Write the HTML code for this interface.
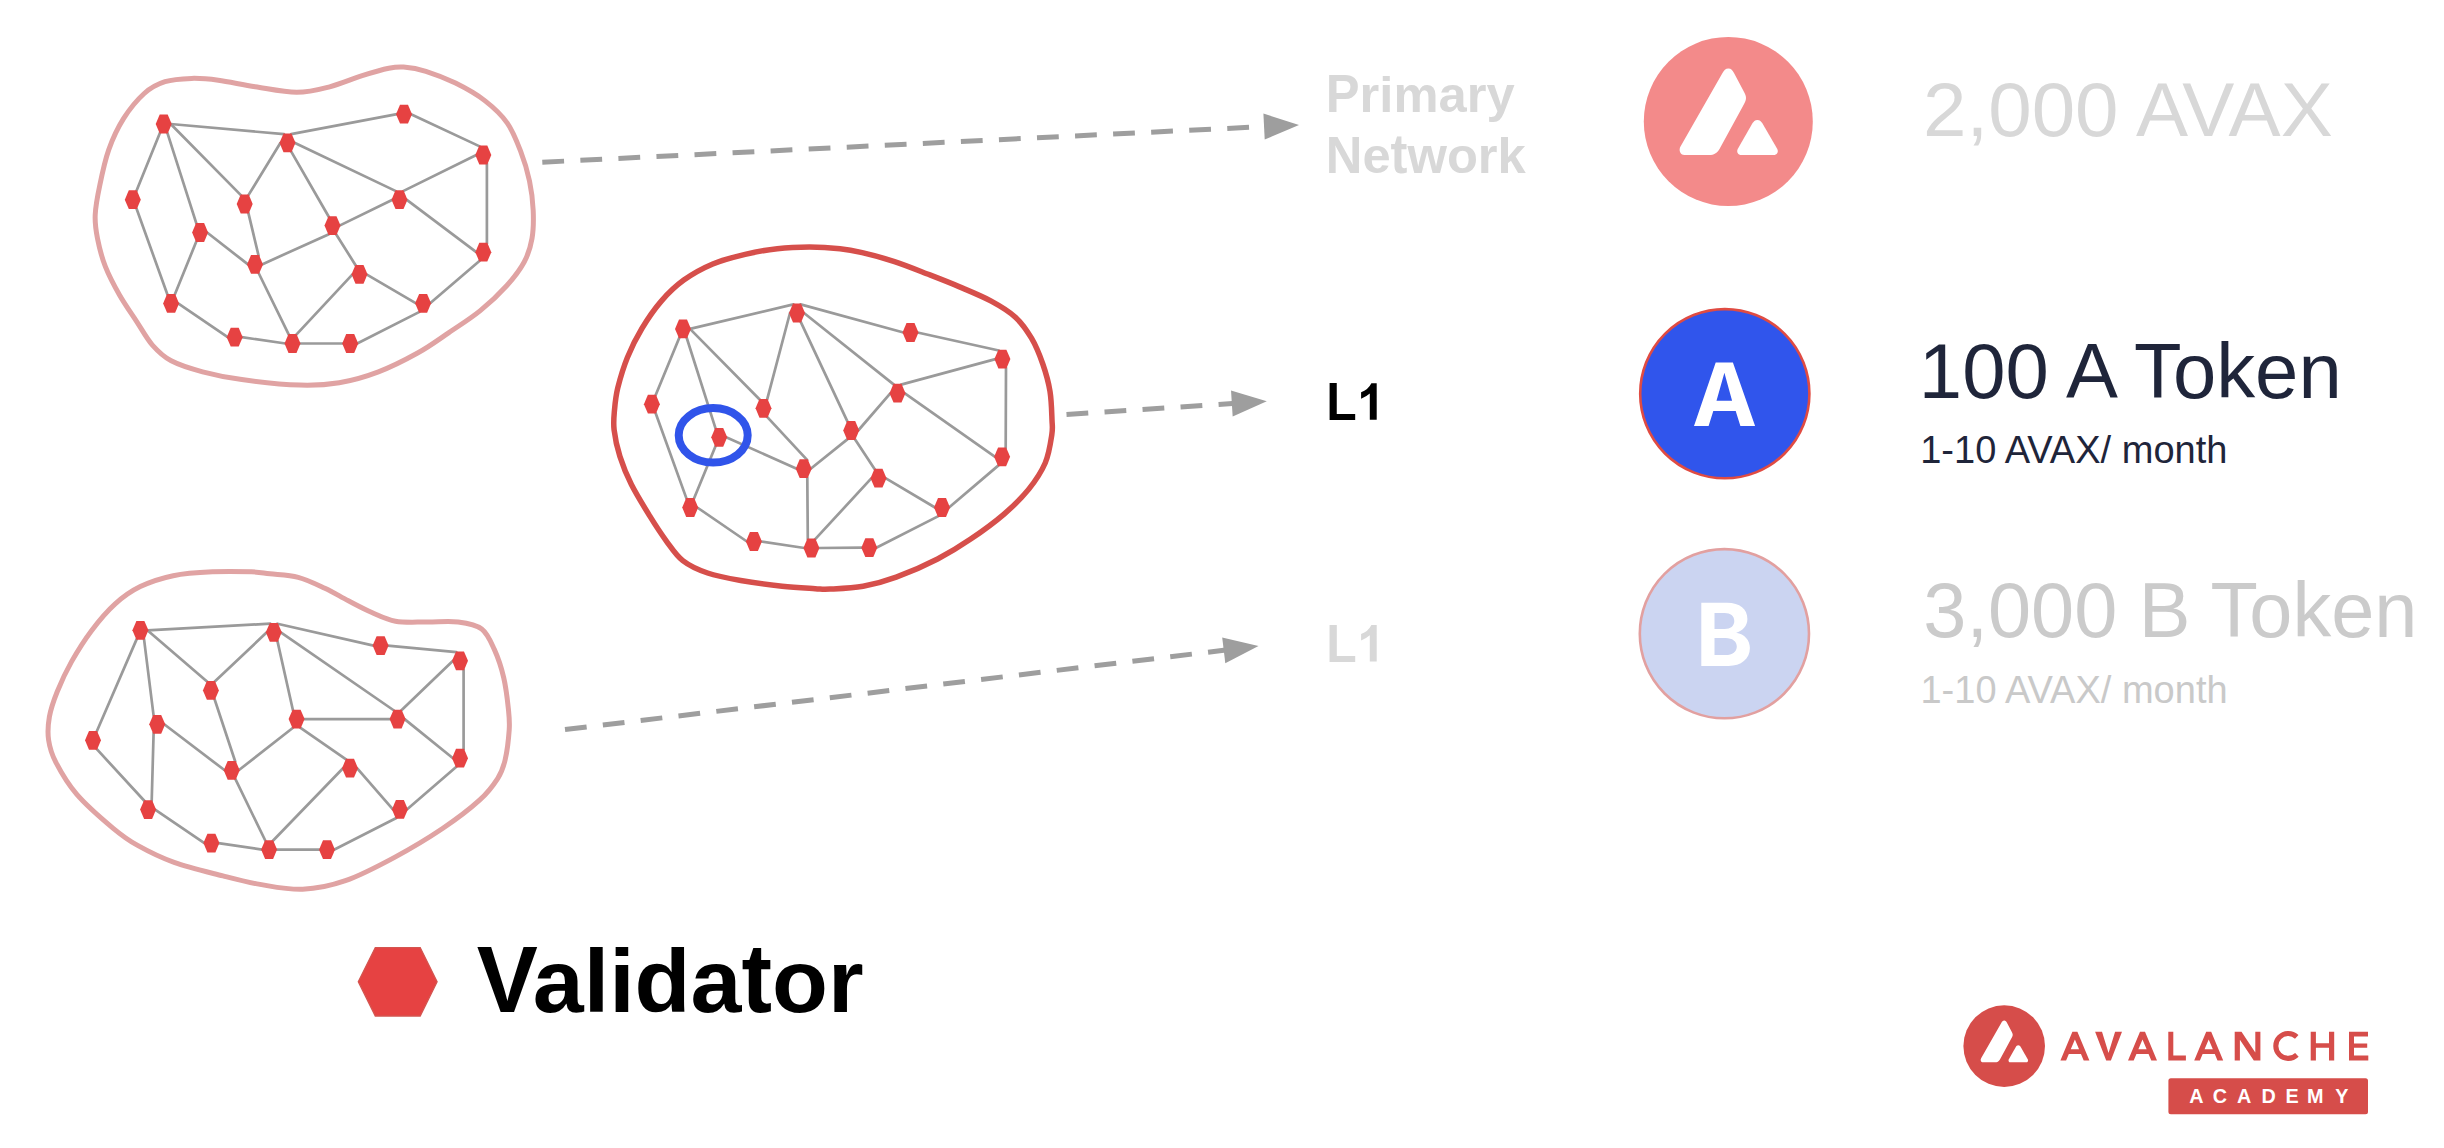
<!DOCTYPE html>
<html><head><meta charset="utf-8"><style>
html,body{margin:0;padding:0;background:#fff;width:2444px;height:1148px;overflow:hidden}
svg{display:block;font-family:"Liberation Sans",sans-serif}
</style></head><body>
<svg width="2444" height="1148" viewBox="0 0 2444 1148">
<path d='M 95.2 215.0 C 95.6 206.1 97.5 196.2 99.8 185.3 C 102.0 174.4 104.8 160.9 108.7 149.8 C 112.7 138.7 117.6 128.1 123.5 118.7 C 129.4 109.3 137.3 99.7 144.2 93.5 C 151.1 87.3 157.1 84.2 165.0 81.7 C 172.9 79.2 182.7 78.7 191.6 78.4 C 200.5 78.2 207.7 78.8 218.3 80.2 C 228.9 81.6 242.2 84.8 255.3 86.8 C 268.4 88.8 284.3 92.3 296.7 92.3 C 309.1 92.3 318.7 89.6 329.6 86.8 C 340.5 84.0 352.3 78.8 362.2 75.7 C 372.1 72.6 381.9 69.7 388.8 68.3 C 395.7 66.9 397.4 66.6 403.6 67.1 C 409.8 67.6 417.2 68.6 425.9 71.3 C 434.5 74.0 445.6 78.2 455.5 83.1 C 465.4 88.0 476.5 94.2 485.1 100.9 C 493.7 107.6 501.4 114.7 507.3 123.1 C 513.2 131.5 516.9 141.6 520.6 151.2 C 524.3 160.8 527.4 171.0 529.5 180.9 C 531.6 190.8 532.8 200.9 533.2 210.5 C 533.6 220.1 533.5 229.9 532.0 238.5 C 530.5 247.1 528.4 254.2 524.2 262.0 C 520.0 269.8 514.2 277.4 506.9 285.5 C 499.6 293.6 490.0 302.8 480.3 310.6 C 470.6 318.5 459.3 325.5 448.9 332.6 C 438.4 339.7 429.4 346.5 417.6 353.0 C 405.9 359.5 391.5 366.9 378.4 371.8 C 365.3 376.8 352.3 380.5 339.2 382.7 C 326.1 384.9 316.2 385.6 300.0 385.1 C 283.8 384.6 258.0 381.8 241.8 379.6 C 225.6 377.4 214.4 374.9 202.6 371.8 C 190.8 368.7 179.6 365.2 171.2 360.8 C 162.8 356.4 158.2 351.6 152.4 345.1 C 146.7 338.6 142.2 330.0 136.7 321.6 C 131.2 313.2 124.7 304.1 119.5 295.0 C 114.3 285.9 109.1 276.1 105.4 266.7 C 101.7 257.3 99.2 247.1 97.5 238.5 C 95.8 229.9 94.8 223.9 95.2 215.0 Z' fill='none' stroke='#e0a3a3' stroke-width='5'/>
<g stroke='#9a9a9a' stroke-width='2.7' stroke-linecap='round'>
<line x1='170.7' y1='124.0' x2='283.9' y2='134.2'/>
<line x1='291.1' y1='134.2' x2='397.0' y2='114.2'/>
<line x1='411.0' y1='114.2' x2='479.7' y2='146.4'/>
<line x1='160.1' y1='132.6' x2='136.4' y2='191.1'/>
<line x1='167.3' y1='132.6' x2='196.5' y2='223.9'/>
<line x1='170.7' y1='124.0' x2='241.1' y2='195.4'/>
<line x1='248.3' y1='195.4' x2='280.5' y2='142.8'/>
<line x1='291.1' y1='151.4' x2='328.9' y2='217.0'/>
<line x1='294.5' y1='142.8' x2='395.9' y2='191.1'/>
<line x1='403.1' y1='191.1' x2='476.3' y2='155.0'/>
<line x1='486.9' y1='163.6' x2='486.9' y2='243.6'/>
<line x1='136.4' y1='208.3' x2='167.5' y2='294.8'/>
<line x1='196.5' y1='241.1' x2='174.7' y2='294.8'/>
<line x1='207.1' y1='232.5' x2='248.0' y2='264.4'/>
<line x1='248.3' y1='212.6' x2='258.6' y2='255.8'/>
<line x1='262.0' y1='264.4' x2='328.9' y2='234.2'/>
<line x1='339.5' y1='225.6' x2='392.5' y2='199.7'/>
<line x1='406.5' y1='199.7' x2='476.3' y2='252.2'/>
<line x1='336.1' y1='234.2' x2='355.9' y2='265.7'/>
<line x1='352.5' y1='274.3' x2='296.1' y2='334.9'/>
<line x1='258.6' y1='273.0' x2='288.9' y2='334.9'/>
<line x1='366.5' y1='274.3' x2='416.1' y2='303.3'/>
<line x1='430.1' y1='303.3' x2='479.7' y2='260.8'/>
<line x1='178.1' y1='303.4' x2='227.7' y2='337.2'/>
<line x1='241.7' y1='337.2' x2='285.5' y2='343.5'/>
<line x1='299.5' y1='343.5' x2='343.2' y2='343.5'/>
<line x1='357.2' y1='343.5' x2='419.5' y2='311.9'/>
</g><g fill='#e64242'>
<polygon points='155.7,124.0 159.7,114.6 167.7,114.6 171.7,124.0 167.7,133.4 159.7,133.4'/>
<polygon points='396.0,114.2 400.0,104.8 408.0,104.8 412.0,114.2 408.0,123.6 400.0,123.6'/>
<polygon points='279.5,142.8 283.5,133.4 291.5,133.4 295.5,142.8 291.5,152.2 283.5,152.2'/>
<polygon points='475.3,155.0 479.3,145.6 487.3,145.6 491.3,155.0 487.3,164.4 479.3,164.4'/>
<polygon points='124.8,199.7 128.8,190.3 136.8,190.3 140.8,199.7 136.8,209.1 128.8,209.1'/>
<polygon points='236.7,204.0 240.7,194.6 248.7,194.6 252.7,204.0 248.7,213.4 240.7,213.4'/>
<polygon points='391.5,199.7 395.5,190.3 403.5,190.3 407.5,199.7 403.5,209.1 395.5,209.1'/>
<polygon points='192.1,232.5 196.1,223.1 204.1,223.1 208.1,232.5 204.1,241.9 196.1,241.9'/>
<polygon points='324.5,225.6 328.5,216.2 336.5,216.2 340.5,225.6 336.5,235.0 328.5,235.0'/>
<polygon points='475.3,252.2 479.3,242.8 487.3,242.8 491.3,252.2 487.3,261.6 479.3,261.6'/>
<polygon points='247.0,264.4 251.0,255.0 259.0,255.0 263.0,264.4 259.0,273.8 251.0,273.8'/>
<polygon points='351.5,274.3 355.5,264.9 363.5,264.9 367.5,274.3 363.5,283.7 355.5,283.7'/>
<polygon points='163.1,303.4 167.1,294.0 175.1,294.0 179.1,303.4 175.1,312.8 167.1,312.8'/>
<polygon points='415.1,303.3 419.1,293.9 427.1,293.9 431.1,303.3 427.1,312.7 419.1,312.7'/>
<polygon points='226.7,337.2 230.7,327.8 238.7,327.8 242.7,337.2 238.7,346.6 230.7,346.6'/>
<polygon points='284.5,343.5 288.5,334.1 296.5,334.1 300.5,343.5 296.5,352.9 288.5,352.9'/>
<polygon points='342.2,343.5 346.2,334.1 354.2,334.1 358.2,343.5 354.2,352.9 346.2,352.9'/>
</g>
<path d='M 614.1 429.9 C 613.2 422.2 613.9 417.0 614.5 410.0 C 615.1 403.0 615.6 396.9 617.7 388.1 C 619.9 379.4 623.4 367.4 627.4 357.5 C 631.4 347.6 636.2 337.9 641.9 328.5 C 647.5 319.1 654.3 309.2 661.3 301.1 C 668.3 293.0 675.2 286.3 683.8 280.1 C 692.4 273.9 702.6 268.3 712.8 264.0 C 723.0 259.7 734.4 256.9 745.1 254.3 C 755.9 251.8 766.6 249.9 777.3 248.7 C 788.0 247.5 799.0 247.1 809.5 247.1 C 820.0 247.1 831.2 247.8 840.0 248.7 C 848.8 249.6 853.1 250.5 862.2 252.7 C 871.3 254.8 883.8 258.1 894.5 261.6 C 905.2 265.1 916.0 269.5 926.7 273.7 C 937.5 277.9 948.2 282.0 959.0 286.6 C 969.8 291.2 981.8 296.0 991.2 301.1 C 1000.6 306.2 1008.7 311.0 1015.4 317.2 C 1022.1 323.4 1026.9 330.4 1031.5 338.2 C 1036.1 346.0 1039.7 355.1 1042.8 364.0 C 1045.9 372.9 1048.5 382.1 1050.0 391.4 C 1051.5 400.7 1051.7 412.8 1052.0 420.0 C 1052.3 427.2 1052.9 427.6 1051.8 434.8 C 1050.7 442.0 1049.1 453.9 1045.2 463.0 C 1041.3 472.1 1035.5 480.8 1028.6 489.4 C 1021.7 497.9 1013.4 506.0 1003.8 514.3 C 994.1 522.6 981.7 531.6 970.7 539.1 C 959.7 546.6 950.0 552.6 937.6 559.0 C 925.2 565.4 908.6 572.7 896.2 577.2 C 883.8 581.8 874.1 584.3 863.1 586.3 C 852.1 588.3 838.0 588.7 830.0 589.1 C 822.0 589.5 823.2 589.2 815.2 588.7 C 807.2 588.2 794.5 587.7 782.1 586.3 C 769.7 584.9 753.1 582.7 740.7 580.5 C 728.3 578.3 717.2 576.3 707.6 573.0 C 698.0 569.7 689.7 566.0 682.8 560.6 C 675.9 555.2 671.7 548.2 666.2 540.8 C 660.7 533.3 655.5 525.3 649.7 515.9 C 643.9 506.5 636.4 494.4 631.4 484.5 C 626.4 474.6 622.8 465.4 619.9 456.3 C 617.0 447.2 615.0 437.6 614.1 429.9 Z' fill='none' stroke='#d64f4b' stroke-width='5.5'/>
<g stroke='#9a9a9a' stroke-width='2.7' stroke-linecap='round'>
<line x1='690.0' y1='328.9' x2='793.4' y2='304.4'/>
<line x1='800.6' y1='304.4' x2='903.5' y2='332.5'/>
<line x1='917.5' y1='332.5' x2='998.8' y2='350.5'/>
<line x1='679.4' y1='337.5' x2='655.5' y2='395.6'/>
<line x1='686.6' y1='337.5' x2='715.6' y2='428.7'/>
<line x1='690.0' y1='328.9' x2='759.9' y2='399.7'/>
<line x1='767.1' y1='399.7' x2='790.0' y2='313.0'/>
<line x1='800.6' y1='321.6' x2='847.6' y2='421.9'/>
<line x1='804.0' y1='313.0' x2='893.9' y2='384.6'/>
<line x1='901.1' y1='384.6' x2='995.4' y2='359.1'/>
<line x1='1006.0' y1='367.7' x2='1005.7' y2='448.2'/>
<line x1='655.5' y1='412.8' x2='686.6' y2='498.9'/>
<line x1='715.6' y1='445.9' x2='693.8' y2='498.9'/>
<line x1='726.2' y1='437.3' x2='796.7' y2='468.7'/>
<line x1='767.1' y1='416.9' x2='807.3' y2='460.1'/>
<line x1='810.7' y1='468.7' x2='847.6' y2='439.1'/>
<line x1='858.2' y1='430.5' x2='890.5' y2='393.2'/>
<line x1='904.5' y1='393.2' x2='995.1' y2='456.8'/>
<line x1='854.8' y1='439.1' x2='874.9' y2='469.6'/>
<line x1='871.5' y1='478.2' x2='815.0' y2='539.4'/>
<line x1='807.3' y1='477.3' x2='807.8' y2='539.4'/>
<line x1='885.5' y1='478.2' x2='935.0' y2='507.5'/>
<line x1='949.0' y1='507.5' x2='998.5' y2='465.4'/>
<line x1='697.2' y1='507.5' x2='746.9' y2='541.5'/>
<line x1='760.9' y1='541.5' x2='804.4' y2='548.0'/>
<line x1='818.4' y1='548.0' x2='862.3' y2='547.7'/>
<line x1='876.3' y1='547.7' x2='938.4' y2='516.1'/>
</g><g fill='#e64242'>
<polygon points='675.0,328.9 679.0,319.5 687.0,319.5 691.0,328.9 687.0,338.3 679.0,338.3'/>
<polygon points='789.0,313.0 793.0,303.6 801.0,303.6 805.0,313.0 801.0,322.4 793.0,322.4'/>
<polygon points='902.5,332.5 906.5,323.1 914.5,323.1 918.5,332.5 914.5,341.9 906.5,341.9'/>
<polygon points='994.4,359.1 998.4,349.7 1006.4,349.7 1010.4,359.1 1006.4,368.5 998.4,368.5'/>
<polygon points='643.9,404.2 647.9,394.8 655.9,394.8 659.9,404.2 655.9,413.6 647.9,413.6'/>
<polygon points='755.5,408.3 759.5,398.9 767.5,398.9 771.5,408.3 767.5,417.7 759.5,417.7'/>
<polygon points='889.5,393.2 893.5,383.8 901.5,383.8 905.5,393.2 901.5,402.6 893.5,402.6'/>
<polygon points='711.2,437.3 715.2,427.9 723.2,427.9 727.2,437.3 723.2,446.7 715.2,446.7'/>
<polygon points='843.2,430.5 847.2,421.1 855.2,421.1 859.2,430.5 855.2,439.9 847.2,439.9'/>
<polygon points='994.1,456.8 998.1,447.4 1006.1,447.4 1010.1,456.8 1006.1,466.2 998.1,466.2'/>
<polygon points='795.7,468.7 799.7,459.3 807.7,459.3 811.7,468.7 807.7,478.1 799.7,478.1'/>
<polygon points='870.5,478.2 874.5,468.8 882.5,468.8 886.5,478.2 882.5,487.6 874.5,487.6'/>
<polygon points='682.2,507.5 686.2,498.1 694.2,498.1 698.2,507.5 694.2,516.9 686.2,516.9'/>
<polygon points='934.0,507.5 938.0,498.1 946.0,498.1 950.0,507.5 946.0,516.9 938.0,516.9'/>
<polygon points='745.9,541.5 749.9,532.1 757.9,532.1 761.9,541.5 757.9,550.9 749.9,550.9'/>
<polygon points='803.4,548.0 807.4,538.6 815.4,538.6 819.4,548.0 815.4,557.4 807.4,557.4'/>
<polygon points='861.3,547.7 865.3,538.3 873.3,538.3 877.3,547.7 873.3,557.1 865.3,557.1'/>
</g>
<path d='M 48.6 740.0 C 47.5 732.4 48.0 724.8 49.4 716.8 C 50.8 708.8 53.5 700.9 57.2 691.7 C 60.9 682.6 65.7 672.1 71.4 661.9 C 77.2 651.7 84.4 640.2 91.7 630.5 C 99.0 620.8 107.1 611.2 115.2 603.9 C 123.3 596.6 130.6 591.3 140.3 586.6 C 150.0 581.9 161.2 578.2 173.2 575.7 C 185.2 573.2 199.3 572.4 212.4 571.8 C 225.5 571.1 242.0 571.5 251.6 571.8 C 261.2 572.1 262.2 572.9 270.0 573.8 C 277.8 574.7 289.1 574.9 298.2 577.3 C 307.3 579.7 316.5 584.3 324.9 588.2 C 333.3 592.1 340.6 596.8 348.4 600.8 C 356.2 604.8 364.0 609.1 371.9 612.5 C 379.8 615.9 386.4 619.6 395.5 621.2 C 404.6 622.8 416.4 621.9 426.8 622.0 C 437.2 622.1 449.1 620.8 458.2 622.0 C 467.3 623.2 475.7 624.4 481.7 629.0 C 487.7 633.6 490.6 641.3 494.3 649.4 C 498.0 657.5 501.4 667.7 503.7 677.6 C 506.0 687.5 507.5 700.3 508.4 709.0 C 509.3 717.7 509.8 721.5 509.2 730.0 C 508.6 738.5 507.0 752.0 505.1 760.0 C 503.2 768.0 502.1 771.6 497.8 778.3 C 493.5 785.0 488.6 791.9 479.5 800.2 C 470.4 808.5 457.1 818.7 442.9 828.3 C 428.7 837.9 410.4 848.9 394.1 857.6 C 377.9 866.3 360.6 875.4 345.4 880.7 C 330.2 886.0 316.9 888.7 302.7 889.3 C 288.5 889.9 273.3 886.6 260.0 884.4 C 246.7 882.2 237.2 879.6 222.9 875.9 C 208.6 872.2 188.3 867.5 174.1 862.4 C 159.9 857.3 147.8 851.1 137.6 845.4 C 127.4 839.7 123.4 836.8 113.2 828.3 C 103.0 819.8 86.1 805.1 76.6 794.1 C 67.0 783.1 60.6 771.4 55.9 762.4 C 51.2 753.4 49.7 747.6 48.6 740.0 Z' fill='none' stroke='#e0a3a3' stroke-width='5'/>
<g stroke='#9a9a9a' stroke-width='2.7' stroke-linecap='round'>
<line x1='147.4' y1='630.3' x2='270.2' y2='623.7'/>
<line x1='277.4' y1='623.7' x2='373.6' y2='645.6'/>
<line x1='387.6' y1='645.6' x2='456.4' y2='652.2'/>
<line x1='136.8' y1='638.9' x2='96.6' y2='731.7'/>
<line x1='144.0' y1='638.9' x2='153.6' y2='715.7'/>
<line x1='147.4' y1='630.3' x2='207.3' y2='681.8'/>
<line x1='214.5' y1='681.8' x2='266.8' y2='632.3'/>
<line x1='277.4' y1='640.9' x2='293.0' y2='710.5'/>
<line x1='280.8' y1='632.3' x2='394.0' y2='710.5'/>
<line x1='401.2' y1='710.5' x2='453.0' y2='660.8'/>
<line x1='463.6' y1='669.4' x2='463.6' y2='749.6'/>
<line x1='96.6' y1='748.9' x2='144.5' y2='801.0'/>
<line x1='153.6' y1='732.9' x2='151.7' y2='801.0'/>
<line x1='164.2' y1='724.3' x2='224.7' y2='770.3'/>
<line x1='214.5' y1='699.0' x2='235.3' y2='761.7'/>
<line x1='238.7' y1='770.3' x2='293.0' y2='727.7'/>
<line x1='303.6' y1='719.1' x2='390.6' y2='719.1'/>
<line x1='404.6' y1='719.1' x2='453.0' y2='758.2'/>
<line x1='300.2' y1='727.7' x2='346.4' y2='759.6'/>
<line x1='343.0' y1='768.2' x2='272.7' y2='841.0'/>
<line x1='235.3' y1='778.9' x2='265.5' y2='841.0'/>
<line x1='357.0' y1='768.2' x2='392.9' y2='809.4'/>
<line x1='406.9' y1='809.4' x2='456.4' y2='766.8'/>
<line x1='155.1' y1='809.6' x2='204.4' y2='843.1'/>
<line x1='218.4' y1='843.1' x2='262.1' y2='849.6'/>
<line x1='276.1' y1='849.6' x2='320.0' y2='849.7'/>
<line x1='334.0' y1='849.7' x2='396.3' y2='818.0'/>
</g><g fill='#e64242'>
<polygon points='132.4,630.3 136.4,620.9 144.4,620.9 148.4,630.3 144.4,639.7 136.4,639.7'/>
<polygon points='265.8,632.3 269.8,622.9 277.8,622.9 281.8,632.3 277.8,641.7 269.8,641.7'/>
<polygon points='372.6,645.6 376.6,636.2 384.6,636.2 388.6,645.6 384.6,655.0 376.6,655.0'/>
<polygon points='452.0,660.8 456.0,651.4 464.0,651.4 468.0,660.8 464.0,670.2 456.0,670.2'/>
<polygon points='85.0,740.3 89.0,730.9 97.0,730.9 101.0,740.3 97.0,749.7 89.0,749.7'/>
<polygon points='149.2,724.3 153.2,714.9 161.2,714.9 165.2,724.3 161.2,733.7 153.2,733.7'/>
<polygon points='202.9,690.4 206.9,681.0 214.9,681.0 218.9,690.4 214.9,699.8 206.9,699.8'/>
<polygon points='288.6,719.1 292.6,709.7 300.6,709.7 304.6,719.1 300.6,728.5 292.6,728.5'/>
<polygon points='389.6,719.1 393.6,709.7 401.6,709.7 405.6,719.1 401.6,728.5 393.6,728.5'/>
<polygon points='452.0,758.2 456.0,748.8 464.0,748.8 468.0,758.2 464.0,767.6 456.0,767.6'/>
<polygon points='223.7,770.3 227.7,760.9 235.7,760.9 239.7,770.3 235.7,779.7 227.7,779.7'/>
<polygon points='342.0,768.2 346.0,758.8 354.0,758.8 358.0,768.2 354.0,777.6 346.0,777.6'/>
<polygon points='140.1,809.6 144.1,800.2 152.1,800.2 156.1,809.6 152.1,819.0 144.1,819.0'/>
<polygon points='391.9,809.4 395.9,800.0 403.9,800.0 407.9,809.4 403.9,818.8 395.9,818.8'/>
<polygon points='203.4,843.1 207.4,833.7 215.4,833.7 219.4,843.1 215.4,852.5 207.4,852.5'/>
<polygon points='261.1,849.6 265.1,840.2 273.1,840.2 277.1,849.6 273.1,859.0 265.1,859.0'/>
<polygon points='319.0,849.7 323.0,840.3 331.0,840.3 335.0,849.7 331.0,859.1 323.0,859.1'/>
</g>
<ellipse cx='713.2' cy='435.3' rx='34.5' ry='27.2' fill='none' stroke='#3054ea' stroke-width='8'/>
<line x1='542.3' y1='162.2' x2='1268.0' y2='126.4' stroke='#9e9e9e' stroke-width='5' stroke-dasharray='21.8 16.3'/><polygon fill='#9e9e9e' points='1299.0,124.9 1264.7,139.6 1263.4,113.6'/>
<line x1='1066.5' y1='414.5' x2='1235.9' y2='403.3' stroke='#9e9e9e' stroke-width='5' stroke-dasharray='21.8 16.3'/><polygon fill='#9e9e9e' points='1266.8,401.2 1232.7,416.5 1231.0,390.5'/>
<line x1='565.0' y1='729.6' x2='1227.7' y2='649.8' stroke='#9e9e9e' stroke-width='5' stroke-dasharray='21.8 16.3'/><polygon fill='#9e9e9e' points='1258.5,646.1 1225.3,663.2 1222.2,637.4'/>
<text transform='translate(1325.80 112.00) scale(1 1.040)' x='0' y='0' font-family='Liberation Sans' font-weight='bold' font-size='50.7' fill='#d8d8d8'>P</text>
<text transform='translate(1359.60 112.00) scale(1 1.000)' x='0' y='0' font-family='Liberation Sans' font-weight='bold' font-size='50.7' fill='#d8d8d8'>r</text>
<text transform='translate(1379.33 112.00) scale(1 1.000)' x='0' y='0' font-family='Liberation Sans' font-weight='bold' font-size='50.7' fill='#d8d8d8'>i</text>
<text transform='translate(1393.41 112.00) scale(1 1.000)' x='0' y='0' font-family='Liberation Sans' font-weight='bold' font-size='50.7' fill='#d8d8d8'>m</text>
<text transform='translate(1438.47 112.00) scale(1 1.000)' x='0' y='0' font-family='Liberation Sans' font-weight='bold' font-size='50.7' fill='#d8d8d8'>a</text>
<text transform='translate(1466.67 112.00) scale(1 1.000)' x='0' y='0' font-family='Liberation Sans' font-weight='bold' font-size='50.7' fill='#d8d8d8'>r</text>
<text transform='translate(1486.39 112.00) scale(1 1.000)' x='0' y='0' font-family='Liberation Sans' font-weight='bold' font-size='50.7' fill='#d8d8d8'>y</text>
<text transform='translate(1325.80 172.65) scale(1 1.030)' x='0' y='0' font-family='Liberation Sans' font-weight='bold' font-size='50.7' fill='#d8d8d8'>N</text>
<text transform='translate(1362.39 172.65) scale(1 1.000)' x='0' y='0' font-family='Liberation Sans' font-weight='bold' font-size='50.7' fill='#d8d8d8'>e</text>
<text transform='translate(1390.58 172.65) scale(1 1.080)' x='0' y='0' font-family='Liberation Sans' font-weight='bold' font-size='50.7' fill='#d8d8d8'>t</text>
<text transform='translate(1407.47 172.65) scale(1 1.000)' x='0' y='0' font-family='Liberation Sans' font-weight='bold' font-size='50.7' fill='#d8d8d8'>w</text>
<text transform='translate(1446.89 172.65) scale(1 1.000)' x='0' y='0' font-family='Liberation Sans' font-weight='bold' font-size='50.7' fill='#d8d8d8'>o</text>
<text transform='translate(1477.86 172.65) scale(1 1.000)' x='0' y='0' font-family='Liberation Sans' font-weight='bold' font-size='50.7' fill='#d8d8d8'>r</text>
<text transform='translate(1497.58 172.65) scale(1 0.985)' x='0' y='0' font-family='Liberation Sans' font-weight='bold' font-size='50.7' fill='#d8d8d8'>k</text>
<text transform='translate(1326.25 419.75) scale(0.9846 1.0450)' x='0' y='0' font-family='Liberation Sans' font-weight='bold' font-size='50.7' fill='#000'>L</text>
<path fill='#000' d='M 1369.8 419.75 L 1376.7 419.75 L 1376.7 383.3 L 1371.4 383.3 Q 1368 390 1361.1 392.3 L 1361.1 398.7 Q 1366 397 1369.8 393.6 Z'/>
<text transform='translate(1326.25 661.50) scale(0.9846 1.0450)' x='0' y='0' font-family='Liberation Sans' font-weight='bold' font-size='50.7' fill='#d8d8d8'>L</text>
<path fill='#d8d8d8' transform='translate(0 241.75)' d='M 1369.8 419.75 L 1376.7 419.75 L 1376.7 383.3 L 1371.4 383.3 Q 1368 390 1361.1 392.3 L 1361.1 398.7 Q 1366 397 1369.8 393.6 Z'/>
<circle cx='1728.30' cy='121.50' r='84.50' fill='#f38a8a'/><g transform='translate(1728.30 121.50) scale(1.0000)' fill='#fff'><path d='M 0.1 -53.1 C -2.8 -53.1 -4.3 -51 -5.8 -48.5 L -47.8 25 C -49.8 28.5 -48.3 33.6 -43.8 33.6 L -19.1 33.6 C -14.3 33.6 -11.3 31.5 -8.8 27.5 L 14.7 -15.5 C 18.7 -22.5 18.7 -24.5 14.7 -31.5 L 5.7 -48.5 C 4.2 -51 3 -53.1 0.1 -53.1 Z'/><path d='M 29.1 -1.6 C 26.7 -1.6 25.2 0 24 2 L 9.7 27 C 7.7 30.5 9.7 33.6 13.2 33.6 L 45 33.6 C 48.7 33.6 50.7 30.5 48.7 27 L 34.2 2 C 33 0 31.5 -1.6 29.1 -1.6 Z'/></g>
<circle cx='1724.8' cy='393.7' r='84.6' fill='#3055ec' stroke='#e04b42' stroke-width='2.6'/>
<path fill='#fff' fill-rule='evenodd' d='M 1694 425.9 L 1715.7 362.5 L 1732.9 362.5 L 1755.1 425.9 L 1740.4 425.9 L 1735.7 411.1 L 1713.3 411.1 L 1708.6 425.9 Z M 1724.4 372.7 L 1716.5 400.8 L 1732.1 400.8 Z'/>
<circle cx='1724.4' cy='633.7' r='84.6' fill='#cbd4f1' stroke='#e2a0a0' stroke-width='2.6'/>
<path fill='#fff' fill-rule='evenodd' d='M 1701.3 602.7 L 1727 602.7 C 1740 602.7 1747.4 609 1747.4 619 C 1747.4 626 1742.5 631 1736.1 632.7 C 1744.5 634 1749.9 640 1749.9 648 C 1749.9 659 1741 665.9 1728.6 665.9 L 1701.3 665.9 Z M 1714.5 613.1 L 1724.7 613.1 C 1730.5 613.1 1734.3 616 1734.3 621 C 1734.3 626 1730.5 629 1724.7 629 L 1714.5 629 Z M 1714.5 638 L 1725.5 638 C 1732.5 638 1736.8 641.5 1736.8 646.5 C 1736.8 651.5 1732.5 655.1 1725.5 655.1 L 1714.5 655.1 Z'/>
<text transform='translate(1923.10 135.60) scale(1.0239 1.0000)' x='0' y='0' font-family='Liberation Sans' font-weight='normal' font-size='76.3' fill='#d8d8d8'>2,000 AVAX</text>
<text transform='translate(1918.86 398.00) scale(1.0060 1.0000)' x='0' y='0' font-family='Liberation Sans' font-weight='normal' font-size='77.4' fill='#1f253a'>100 A Token</text>
<text transform='translate(1920.22 462.80) scale(0.9956 1.0000)' x='0' y='0' font-family='Liberation Sans' font-weight='normal' font-size='38.2' fill='#1f253a'>1-10 AVAX/ month</text>
<text transform='translate(1923.32 636.90) scale(1.0015 1.0000)' x='0' y='0' font-family='Liberation Sans' font-weight='normal' font-size='77.4' fill='#cbcbcb'>3,000 B Token</text>
<text transform='translate(1920.42 702.80) scale(0.9956 1.0000)' x='0' y='0' font-family='Liberation Sans' font-weight='normal' font-size='38.2' fill='#c9c9c9'>1-10 AVAX/ month</text>
<polygon fill='#e64242' stroke='#d4544f' stroke-width='1.3' points='358.3,981.8 375.3,947.6 420.2,947.6 437.1,981.8 420.2,1016.0 375.3,1016.0'/>
<text transform='translate(476.75 1011.8) scale(1 1.037)' x='0' y='0' font-family='Liberation Sans' font-weight='bold' font-size='91.6' fill='#000'>V</text>
<text transform='translate(532.78 1011.8) scale(1 0.976)' x='0' y='0' font-family='Liberation Sans' font-weight='bold' font-size='91.6' fill='#000'>a</text>
<text transform='translate(583.72 1011.8) scale(1 0.976)' x='0' y='0' font-family='Liberation Sans' font-weight='bold' font-size='91.6' fill='#000'>l</text>
<text transform='translate(609.17 1011.8) scale(1 0.976)' x='0' y='0' font-family='Liberation Sans' font-weight='bold' font-size='91.6' fill='#000'>i</text>
<text transform='translate(634.61 1011.8) scale(1 0.976)' x='0' y='0' font-family='Liberation Sans' font-weight='bold' font-size='91.6' fill='#000'>d</text>
<text transform='translate(690.56 1011.8) scale(1 0.976)' x='0' y='0' font-family='Liberation Sans' font-weight='bold' font-size='91.6' fill='#000'>a</text>
<text transform='translate(741.50 1011.8) scale(1 1.069)' x='0' y='0' font-family='Liberation Sans' font-weight='bold' font-size='91.6' fill='#000'>t</text>
<text transform='translate(772.00 1011.8) scale(1 0.976)' x='0' y='0' font-family='Liberation Sans' font-weight='bold' font-size='91.6' fill='#000'>o</text>
<text transform='translate(827.95 1011.8) scale(1 0.976)' x='0' y='0' font-family='Liberation Sans' font-weight='bold' font-size='91.6' fill='#000'>r</text>
<circle cx='2004.20' cy='1046.10' r='40.80' fill='#d64d4a'/><g transform='translate(2004.20 1046.10) scale(0.4828)' fill='#fff'><path d='M 0.1 -53.1 C -2.8 -53.1 -4.3 -51 -5.8 -48.5 L -47.8 25 C -49.8 28.5 -48.3 33.6 -43.8 33.6 L -19.1 33.6 C -14.3 33.6 -11.3 31.5 -8.8 27.5 L 14.7 -15.5 C 18.7 -22.5 18.7 -24.5 14.7 -31.5 L 5.7 -48.5 C 4.2 -51 3 -53.1 0.1 -53.1 Z'/><path d='M 29.1 -1.6 C 26.7 -1.6 25.2 0 24 2 L 9.7 27 C 7.7 30.5 9.7 33.6 13.2 33.6 L 45 33.6 C 48.7 33.6 50.7 30.5 48.7 27 L 34.2 2 C 33 0 31.5 -1.6 29.1 -1.6 Z'/></g>
<path fill='#d64d4a' fill-rule='evenodd' d='M 2060.40 1060.40 L 2072.40 1031.80 L 2077.40 1031.80 L 2089.40 1060.40 L 2083.70 1060.40 L 2080.97 1053.90 L 2068.83 1053.90 L 2066.10 1060.40 Z M 2074.90 1039.43 L 2070.76 1049.30 L 2079.04 1049.30 Z M 2095.10 1031.80 L 2102.00 1031.80 L 2108.55 1053.10 L 2115.10 1031.80 L 2122.00 1031.80 L 2110.90 1060.40 L 2106.20 1060.40 Z M 2128.00 1060.40 L 2140.00 1031.80 L 2145.00 1031.80 L 2157.00 1060.40 L 2151.30 1060.40 L 2148.57 1053.90 L 2136.43 1053.90 L 2133.70 1060.40 Z M 2142.50 1039.43 L 2138.36 1049.30 L 2146.64 1049.30 Z M 2168.30 1031.80 L 2173.30 1031.80 L 2173.30 1055.60 L 2185.90 1055.60 L 2185.90 1060.40 L 2168.30 1060.40 Z M 2194.20 1060.40 L 2206.20 1031.80 L 2211.20 1031.80 L 2223.20 1060.40 L 2217.50 1060.40 L 2214.77 1053.90 L 2202.63 1053.90 L 2199.90 1060.40 Z M 2208.70 1039.43 L 2204.56 1049.30 L 2212.84 1049.30 Z M 2234.70 1031.80 L 2241.50 1031.80 L 2255.30 1052.40 L 2255.30 1031.80 L 2260.40 1031.80 L 2260.40 1060.40 L 2253.80 1060.40 L 2239.90 1039.80 L 2239.90 1060.40 L 2234.70 1060.40 Z M 2310.70 1031.80 L 2315.90 1031.80 L 2315.90 1043.20 L 2329.00 1043.20 L 2329.00 1031.80 L 2334.20 1031.80 L 2334.20 1060.40 L 2329.00 1060.40 L 2329.00 1047.70 L 2315.90 1047.70 L 2315.90 1060.40 L 2310.70 1060.40 Z M 2349.00 1031.80 L 2368.00 1031.80 L 2368.00 1036.60 L 2354.00 1036.60 L 2354.00 1043.60 L 2367.20 1043.60 L 2367.20 1047.80 L 2354.00 1047.80 L 2354.00 1055.50 L 2368.30 1055.50 L 2368.30 1060.40 L 2349.00 1060.40 Z '/>
<path fill='none' stroke='#d64d4a' stroke-width='5.1' d='M 2296.74 1036.84 A 12.45 12.45 0 1 0 2296.90 1054.91'/>
<rect x='2168.4' y='1078.2' width='199.6' height='36' rx='2.5' fill='#d64d4a'/>
<text x='2189.20 2212.85 2237.10 2261.50 2285.40 2307.10 2335.15' y='1103.4' font-family='Liberation Sans' font-weight='bold' font-size='19.8' fill='#fff'>ACADEMY</text>
</svg>
</body></html>
